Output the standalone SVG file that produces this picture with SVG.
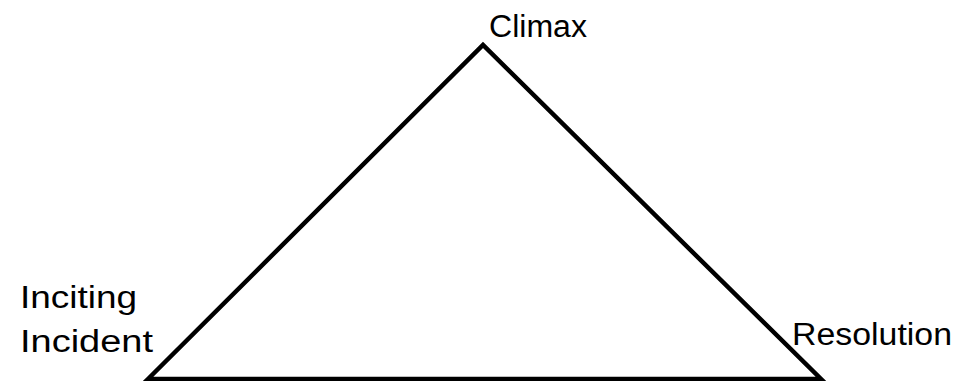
<svg xmlns="http://www.w3.org/2000/svg" width="957" height="381" viewBox="0 0 957 381">
<style>
.lbl{font-family:"Liberation Sans","DejaVu Sans",sans-serif;font-size:31px;fill:#000}
.edge{fill:none;stroke:#000;stroke-width:4.5;stroke-linejoin:miter}
</style>
<rect width="957" height="381" fill="#fff"/>
<g id="connectors">
<polygon class="edge" points="148,379 483,45 821,379"/>
</g>
<g id="climax"><text class="lbl" x="489" y="37" textLength="98" lengthAdjust="spacingAndGlyphs">Climax</text></g>
<g id="inciting-incident">
<text class="lbl" x="20" y="308" textLength="117" lengthAdjust="spacingAndGlyphs">Inciting</text>
<text class="lbl" x="20" y="352" textLength="133" lengthAdjust="spacingAndGlyphs">Incident</text>
</g>
<g id="resolution"><text class="lbl" x="792" y="345" textLength="160" lengthAdjust="spacingAndGlyphs">Resolution</text></g>
</svg>
